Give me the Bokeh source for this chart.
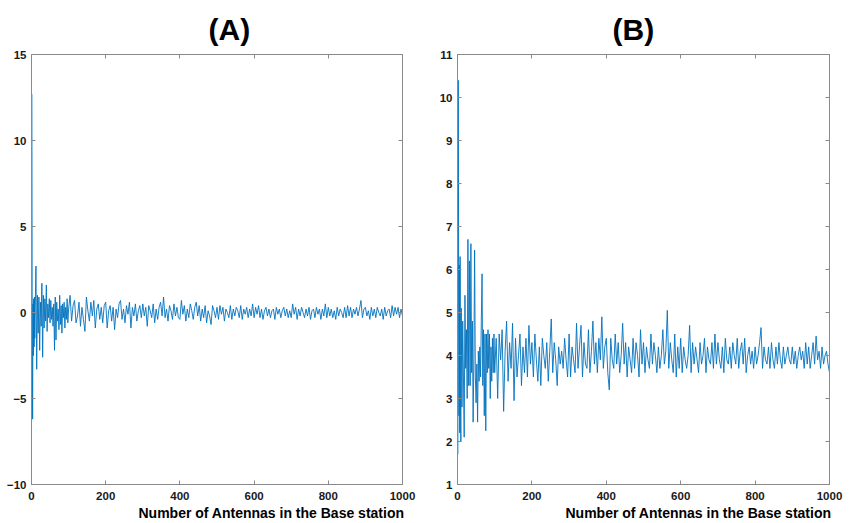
from bokeh.plotting import figure
from bokeh.layouts import row
from bokeh.models import Range1d, FixedTicker, LinearAxis, Title
from bokeh.embed import file_html
from bokeh.resources import INLINE

# ---------------- data ----------------
x_early = [1, 2, 3, 4, 5, 6, 7, 8, 9, 10] + list(range(12, 100, 2))
x_late = list(range(100, 1001, 4))
antennas = x_early + x_late

a_early = [12.7, -1.0, -6.2, 0.5, -2.5, 0.8, -2.0, 0.9, -1.5, 0.3,
           2.7, -3.3, 1.0, -1.2, 0.9, -2.2, 0.6, -0.8, 1.7, -2.6,
           1.0, -0.9, 0.8, -0.5, 1.6, -1.1, 0.5, -0.3, 0.8, -0.6,
           0.7, -0.4, 0.3, -0.8, 0.5, -2.2, 0.9, -1.6, 0.6, -0.5,
           0.2, -1.0, 1.0, -0.7, 0.4, -1.2, 0.5, -0.3, 0.6, -0.9,
           0.3, -0.4, 0.8, -0.6]
a_late = [0.2, 1.0, -0.5, 0.4, 0.7, -0.6, -0.2, 0.6, -0.8, 0.3, -0.4, -1.1, 0.9, 0.1, -0.5, 0.6, -0.2, 0.7, -0.9, 0.2, 0.5, -0.4, 0.3, -0.6, 0.4,
          0.6, -0.9, 0.1, 0.4, -0.5, 0.3, -1.0, 0.2, -0.3, 0.5, 0.7, -0.4, 0.2, -0.6, 0.4, -0.1, 0.6, -0.9, 0.3, -0.2, 0.5, -0.5, 0.1, 0.4, -0.3,
          0.5, -0.2, 0.3, -0.8, 0.4, 0.1, -0.3, 0.5, -0.6, 0.2, -0.4, 0.3, 0.6, -0.2, 0.9, -0.3, 0.2, -0.5, 0.4, 0.1, -0.4, 0.5, -0.2, 0.3, -0.3,
          -0.4, 0.7, -0.1, 0.4, -0.5, 0.2, -0.3, 0.5, 0.1, -0.4, 0.3, 0.6, -0.2, 0.4, -0.5, 0.2, -0.3, 0.4, -0.6, 0.1, -0.2, -0.7, 0.4, 0.1, -0.3,
          0.3, -0.4, 0.4, -0.1, 0.3, -0.5, 0.2, 0.0, -0.3, 0.4, -0.4, 0.2, -0.2, 0.3, 0.1, -0.3, 0.4, -0.4, 0.2, -0.1, 0.3, -0.3, 0.2, -0.2, 0.5,
          -0.3, 0.3, -0.1, 0.4, -0.3, 0.2, -0.4, 0.1, 0.3, -0.2, 0.2, -0.3, 0.1, 0.2, -0.4, 0.3, -0.1, 0.2, -0.3, 0.1, 0.3, -0.2, 0.2, -0.3, 0.1,
          -0.3, 0.5, -0.1, 0.3, -0.4, 0.2, -0.2, 0.3, 0.0, -0.3, 0.2, -0.2, 0.3, -0.4, 0.1, 0.2, -0.3, 0.3, -0.1, 0.2, -0.4, 0.2, -0.2, 0.5, -0.3,
          0.3, -0.2, 0.2, -0.3, 0.1, -0.4, 0.3, -0.2, 0.2, 0.0, -0.3, 0.3, -0.3, 0.4, -0.2, 0.3, -0.3, 0.2, -0.1, 0.3, -0.2, 0.2, 0.7, -0.3, 0.2,
          0.3, -0.2, 0.1, -0.4, 0.3, -0.2, 0.2, -0.3, 0.3, 0.0, -0.2, 0.2, -0.4, 0.3, -0.2, 0.1, 0.2, -0.3, 0.4, -0.2, 0.3, -0.1, 0.3, -0.3, 0.2,
          -0.2]
series_a = a_early + a_late

b_early = [1.7, 10.4, 6.5, 2.6, 6.1, 2.2, 6.3, 3.0, 2.0, 5.1,
           2.8, 4.8, 3.5, 2.1, 5.4, 3.7, 4.6, 3.0, 6.7, 3.3,
           6.2, 3.3, 6.6, 3.6, 4.8, 2.45, 3.9, 6.45, 3.5, 2.9,
           3.8, 2.45, 4.1, 3.4, 4.2, 3.5, 4.8, 5.9, 3.3, 4.6,
           2.6, 4.5, 2.25, 4.5, 3.6, 4.6, 3.7, 4.5, 3.0, 4.2,
           3.4, 4.4, 3.6, 4.5]
b_late = [3.6, 4.4, 3.0, 4.5, 3.9, 4.6, 2.7, 4.1, 4.8, 3.4, 4.3, 3.7, 4.75, 2.95, 4.4, 3.5, 4.0, 4.5, 3.3, 4.2, 3.6, 4.4, 3.5, 4.7, 3.8,
          4.3, 3.5, 4.5, 3.9, 3.4, 4.2, 3.3, 4.4, 4.0, 3.7, 4.3, 3.4, 4.1, 4.85, 3.6, 4.3, 3.9, 3.3, 4.2, 3.8, 4.1, 3.7, 4.4, 3.9, 3.5,
          4.5, 3.5, 4.2, 3.9, 3.6, 4.75, 3.7, 4.2, 4.7, 3.5, 4.3, 3.8, 3.7, 4.6, 3.6, 4.1, 4.8, 3.8, 4.3, 3.6, 4.4, 3.9, 4.9, 3.7, 4.2,
          4.4, 3.6, 3.2, 4.4, 3.9, 3.7, 4.5, 3.8, 4.3, 3.6, 4.0, 4.75, 3.8, 4.3, 3.5, 4.2, 3.9, 3.6, 4.4, 3.7, 4.3, 4.0, 3.5, 4.6, 3.8,
          4.3, 3.6, 4.2, 3.9, 3.7, 4.5, 3.8, 4.3, 4.0, 3.6, 4.2, 3.7, 4.0, 4.6, 3.8, 4.1, 5.05, 3.7, 4.3, 3.9, 3.6, 4.5, 3.5, 4.2, 3.7,
          4.4, 3.6, 4.2, 3.9, 3.7, 4.0, 4.7, 3.6, 4.3, 3.8, 4.2, 3.9, 3.6, 4.3, 3.8, 4.0, 4.4, 3.6, 4.2, 3.9, 3.8, 4.3, 3.7, 4.5, 3.8,
          4.3, 3.9, 3.7, 4.2, 3.6, 4.4, 3.9, 3.8, 4.2, 3.7, 4.3, 4.0, 3.8, 4.4, 3.7, 4.1, 4.3, 3.8, 4.4, 3.6, 4.0, 4.2, 3.8, 4.1, 3.7,
          4.2, 3.8, 4.0, 4.3, 4.65, 3.7, 4.2, 3.9, 3.8, 4.2, 3.7, 4.3, 3.9, 3.7, 4.2, 3.8, 4.3, 3.9, 3.7, 4.2, 3.8, 4.0, 4.2, 3.9, 3.8,
          4.2, 3.8, 4.1, 3.7, 4.0, 4.2, 3.9, 4.1, 3.7, 4.3, 3.8, 4.2, 3.7, 4.0, 4.3, 3.8, 4.45, 3.9, 4.1, 3.7, 4.2, 3.8, 4.0, 4.1, 3.8,
          3.6]
series_b = b_early + b_late

x_ticks = [0, 200, 400, 600, 800, 1000]
a_ticks = [-10, -5, 0, 5, 10, 15]
b_ticks = [1, 2, 3, 4, 5, 6, 7, 8, 9, 10, 11]
titles = ["(A)", "(B)"]
x_label = "Number of Antennas in the Base station"

# ---------------- styling ----------------
FONT = "Liberation Sans"
LINE = "#0072BD"
AXIS = "#8a8a8a"


def style_axis(ax, ticks, show_labels):
    ax.ticker = FixedTicker(ticks=ticks)
    ax.axis_line_color = AXIS
    ax.major_tick_line_color = AXIS
    ax.major_tick_in = 4
    ax.major_tick_out = 0
    ax.minor_tick_line_color = None
    ax.major_label_text_font = FONT
    ax.major_label_text_font_style = "bold"
    ax.major_label_text_color = "#1a1a1a"
    if show_labels:
        ax.major_label_text_font_size = "11.5px"
        ax.major_label_standoff = 5
    else:
        ax.major_label_overrides = {t: "" for t in ticks}
        ax.major_label_text_font_size = "1px"
        ax.major_label_standoff = 0


def make_panel(xs, ys, y0, y1, yticks, title, title_off, width, height, bl, br):
    p = figure(width=width, height=height, output_backend="svg", toolbar_location=None,
               x_range=Range1d(0, 1000), y_range=Range1d(y0, y1),
               min_border_left=bl, min_border_right=br, min_border_top=54, min_border_bottom=39)
    p.xgrid.visible = False
    p.ygrid.visible = False
    p.outline_line_color = AXIS
    p.background_fill_color = "white"
    p.border_fill_color = "white"
    style_axis(p.xaxis[0], x_ticks, True)
    p.xaxis[0].major_label_standoff = 7
    style_axis(p.yaxis[0], yticks, True)
    top = LinearAxis()
    style_axis(top, x_ticks, False)
    p.add_layout(top, "above")
    right = LinearAxis()
    style_axis(right, yticks, False)
    p.add_layout(right, "right")

    p.line(xs, ys, line_color=LINE, line_width=0.9)

    p.add_layout(Title(text=x_label, align="right", offset=-2,
                       text_font=FONT, text_font_style="bold", text_font_size="14px",
                       text_color="black", standoff=0), "below")
    p.title.text = title
    p.title.align = "left"
    p.title.offset = title_off
    p.title.vertical_align = "top"
    p.title.text_font = FONT
    p.title.text_font_style = "bold"
    p.title.text_font_size = "30px"
    p.title.text_color = "black"
    p.title.standoff = 14
    return p


pa = make_panel(antennas, series_a, -10, 15, a_ticks, titles[0], 177, 420, 523, 31, 18)
pb = make_panel(antennas, series_b, 1, 11, b_ticks, titles[1], 155, 431, 523, 37, 22)

layout = row(pa, pb)
open("out.html", "w").write(file_html(layout, INLINE))
